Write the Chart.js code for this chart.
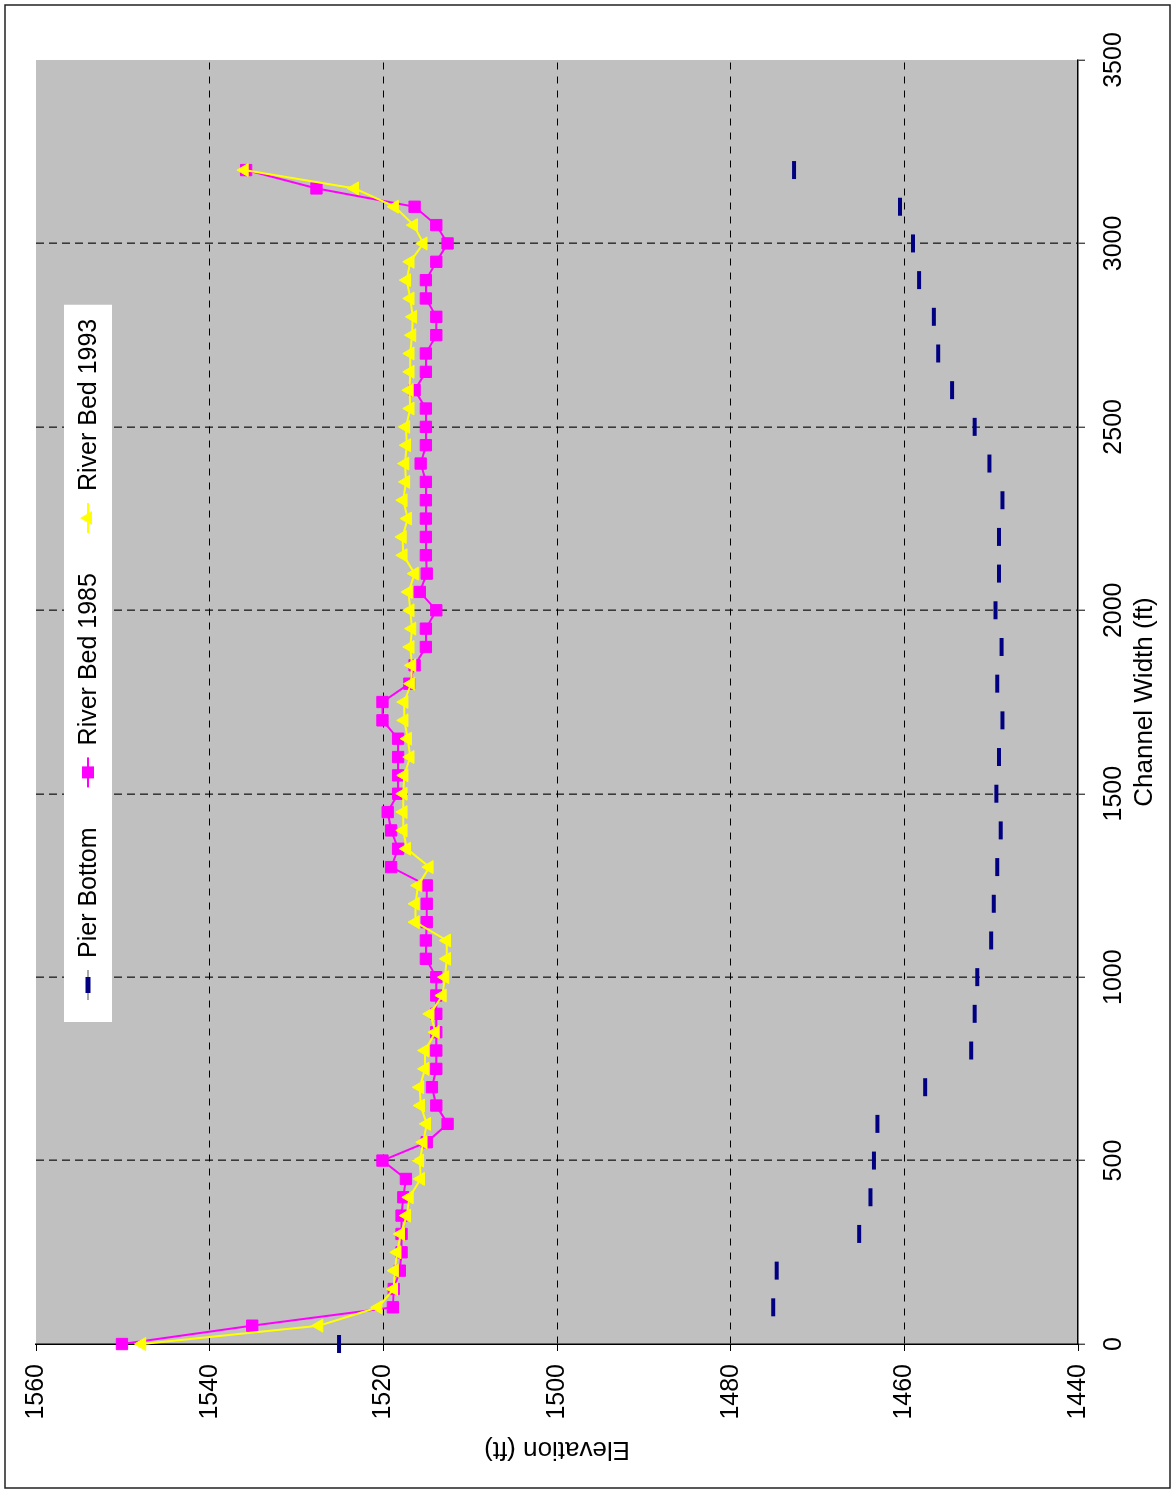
<!DOCTYPE html>
<html>
<head>
<meta charset="utf-8">
<script src="https://cdn.jsdelivr.net/npm/chart.js@4.4.1/dist/chart.umd.min.js"></script>
<style>
  html, body { margin: 0; padding: 0; background: #ffffff; width: 1175px; height: 1493px; overflow: hidden; }
  /* The chart is laid out landscape and turned a quarter turn counter-clockwise onto the portrait page */
  #wrap { position: absolute; left: 0; top: 0; width: 1493px; height: 1175px;
          transform-origin: 0 0; transform: translate(0px, 1493px) rotate(-90deg); }
  canvas { display: block; }
</style>
</head>
<body>
<div id="wrap"><canvas id="chart" width="1493" height="1175"></canvas></div>
<script>
// Survey stations across the channel (ft) for the two river bed surveys
const bedWidths = [
  0, 50, 100, 150, 200, 250, 300, 350, 400, 450,
  500, 550, 600, 650, 700, 750, 800, 850, 900, 950,
  1000, 1050, 1100, 1150, 1200, 1250, 1300, 1350, 1400, 1450,
  1500, 1550, 1600, 1650, 1700, 1750, 1800, 1850, 1900, 1950,
  2000, 2050, 2100, 2150, 2200, 2250, 2300, 2350, 2400, 2450,
  2500, 2550, 2600, 2650, 2700, 2750, 2800, 2850, 2900, 2950,
  3000, 3050, 3100, 3150, 3200
];

// River bed elevation (ft), 1985 survey
const bed1985 = [
  1550.1, 1535.1, 1518.9, 1518.8, 1518.1, 1517.9, 1517.9, 1517.9, 1517.7, 1517.4,
  1520.1, 1515.0, 1512.6, 1513.9, 1514.4, 1513.9, 1513.9, 1513.9, 1513.9, 1513.9,
  1513.9, 1515.1, 1515.1, 1515.0, 1515.0, 1515.0, 1519.1, 1518.3, 1519.1, 1519.5,
  1518.3, 1518.3, 1518.3, 1518.3, 1520.1, 1520.1, 1517.0, 1516.4, 1515.1, 1515.1,
  1513.9, 1515.8, 1515.0, 1515.1, 1515.1, 1515.1, 1515.1, 1515.1, 1515.7, 1515.1,
  1515.1, 1515.1, 1516.4, 1515.1, 1515.1, 1513.9, 1513.9, 1515.1, 1515.1, 1513.9,
  1512.6, 1513.9, 1516.4, 1527.7, 1535.8
];

// River bed elevation (ft), 1993 survey
const bed1993 = [
  1547.8, 1527.4, 1520.6, 1518.8, 1518.7, 1518.4, 1518.0, 1517.3, 1517.0, 1515.7,
  1515.8, 1515.4, 1515.0, 1515.7, 1515.8, 1515.2, 1515.2, 1514.0, 1514.6, 1513.2,
  1512.9, 1512.7, 1512.7, 1516.3, 1516.3, 1516.0, 1514.7, 1517.3, 1517.7, 1517.7,
  1517.7, 1517.6, 1516.9, 1517.2, 1517.6, 1517.6, 1516.8, 1516.7, 1516.9, 1516.7,
  1516.9, 1517.1, 1516.4, 1517.7, 1517.8, 1517.2, 1517.7, 1517.4, 1517.5, 1517.3,
  1517.4, 1516.9, 1517.0, 1516.9, 1516.9, 1516.7, 1516.6, 1516.9, 1517.3, 1516.9,
  1515.4, 1516.5, 1518.7, 1523.3, 1536.0
];

// Pier locations (ft) and pier bottom elevations (ft)
const pierWidths = [
  0, 100, 200, 300, 400, 500, 600, 700, 800, 900,
  1000, 1100, 1200, 1300, 1400, 1500, 1600, 1700, 1800, 1900,
  2000, 2100, 2200, 2300, 2400, 2500, 2600, 2700, 2800, 2900,
  3000, 3100, 3200
];
const pierBottom = [
  1525.1, 1475.1, 1474.7, 1465.2, 1463.9, 1463.5, 1463.1, 1457.6, 1452.3, 1451.9,
  1451.6, 1450.0, 1449.7, 1449.3, 1448.9, 1449.4, 1449.1, 1448.7, 1449.3, 1448.8,
  1449.5, 1449.1, 1449.1, 1448.7, 1450.2, 1451.9, 1454.5, 1456.1, 1456.6, 1458.3,
  1459.0, 1460.5, 1472.7
];

// Axis tick values
const widthTicks = [0, 500, 1000, 1500, 2000, 2500, 3000, 3500];
const elevTicks = [1440, 1460, 1480, 1500, 1520, 1540, 1560];

const seriesNames = ['Pier Bottom', 'River Bed 1985', 'River Bed 1993'];

const FONT = '"Liberation Sans", Arial, Helvetica, sans-serif';

function pairs(xs, ys) {
  return xs.map((x, i) => ({ x: x, y: ys[i] }));
}

// Page background, outer frame and grey plot area
const backdrop = {
  id: 'backdrop',
  beforeDraw(chart) {
    const { ctx, chartArea: a, width, height } = chart;
    ctx.save();
    ctx.fillStyle = '#ffffff';
    ctx.fillRect(0, 0, width, height);
    ctx.strokeStyle = '#222222';
    ctx.lineWidth = 1.5;
    ctx.strokeRect(5, 5, width - 10, height - 10);
    ctx.fillStyle = '#c0c0c0';
    ctx.fillRect(a.left, a.top, a.right - a.left, a.bottom - a.top);
    ctx.restore();
  }
};

// Legend box drawn inside the plot area, near its top edge
const insetLegend = {
  id: 'insetLegend',
  afterDraw(chart) {
    const ctx = chart.ctx;
    ctx.save();
    ctx.font = '25px ' + FONT;
    const top = 64, bottom = 112, left = 471;
    const cy = (top + bottom) / 2;
    const widths = seriesNames.map(n => ctx.measureText(n).width);
    let total = 22;
    widths.forEach((w, i) => { total += 42 + w + (i < widths.length - 1 ? 40 : 14); });
    ctx.fillStyle = '#ffffff';
    ctx.fillRect(left, top, total, bottom - top);

    let x = left + 22;
    seriesNames.forEach((name, i) => {
      const mx = x + 15;
      ctx.lineWidth = 2;
      if (i === 0) {
        ctx.strokeStyle = '#a8a8a8';
        ctx.beginPath(); ctx.moveTo(x, cy); ctx.lineTo(x + 30, cy); ctx.stroke();
        ctx.strokeStyle = '#000080';
        ctx.lineWidth = 5;
        ctx.beginPath(); ctx.moveTo(mx - 8, cy); ctx.lineTo(mx + 8, cy); ctx.stroke();
      } else if (i === 1) {
        ctx.strokeStyle = '#ff00ff';
        ctx.beginPath(); ctx.moveTo(x, cy); ctx.lineTo(x + 30, cy); ctx.stroke();
        ctx.fillStyle = '#ff00ff';
        ctx.fillRect(mx - 6, cy - 6, 12, 12);
      } else {
        ctx.strokeStyle = '#ffff00';
        ctx.beginPath(); ctx.moveTo(x, cy); ctx.lineTo(x + 30, cy); ctx.stroke();
        const r = 8;
        ctx.fillStyle = '#ffff00';
        ctx.beginPath();
        ctx.moveTo(mx, cy - r);
        ctx.lineTo(mx + r * 0.866, cy + r / 2);
        ctx.lineTo(mx - r * 0.866, cy + r / 2);
        ctx.closePath();
        ctx.fill();
      }
      ctx.fillStyle = '#000000';
      ctx.textBaseline = 'middle';
      ctx.textAlign = 'left';
      ctx.fillText(name, x + 42, cy + 1);
      x += 42 + widths[i] + 40;
    });
    ctx.restore();
  }
};

new Chart(document.getElementById('chart'), {
  type: 'scatter',
  data: {
    datasets: [
      {
        label: seriesNames[0],
        data: pairs(pierWidths, pierBottom),
        showLine: false,
        pointStyle: 'line',
        pointRadius: 9,
        pointBorderWidth: 4,
        borderColor: '#000080',
        backgroundColor: '#000080',
        clip: false,
        order: 3
      },
      {
        label: seriesNames[1],
        data: pairs(bedWidths, bed1985),
        showLine: true,
        borderColor: '#ff00ff',
        backgroundColor: '#ff00ff',
        borderWidth: 2,
        pointStyle: 'rect',
        pointRadius: 8,
        pointBorderWidth: 1,
        pointBorderColor: '#ff00ff',
        pointBackgroundColor: '#ff00ff',
        tension: 0,
        clip: false,
        order: 2
      },
      {
        label: seriesNames[2],
        data: pairs(bedWidths, bed1993),
        showLine: true,
        borderColor: '#ffff00',
        backgroundColor: '#ffff00',
        borderWidth: 2,
        pointStyle: 'triangle',
        pointRadius: 7.5,
        pointBorderWidth: 1,
        pointBorderColor: '#ffff00',
        pointBackgroundColor: '#ffff00',
        tension: 0,
        clip: false,
        order: 1
      }
    ]
  },
  options: {
    responsive: false,
    animation: false,
    devicePixelRatio: 1,
    layout: { padding: { left: 0, right: 60, top: 36, bottom: 0 } },
    plugins: {
      legend: { display: false },
      tooltip: { enabled: false }
    },
    scales: {
      x: {
        type: 'linear',
        min: 0,
        max: 3500,
        afterBuildTicks: s => { s.ticks = widthTicks.map(v => ({ value: v })); },
        afterFit: s => { s.height = 97; },
        ticks: {
          color: '#000000',
          font: { family: FONT, size: 25 },
          padding: 14,
          maxRotation: 0,
          autoSkip: false,
          callback: v => String(v)
        },
        grid: {
          color: c => (c.tick && (c.tick.value === 3500 || c.tick.value === 0)) ? 'rgba(0,0,0,0)' : '#3a3a3a',
          lineWidth: 1.6,
          drawTicks: true,
          tickLength: 7,
          tickColor: '#000000',
          tickWidth: 1
        },
        border: { display: true, color: '#000000', width: 1.5, dash: [8, 5] },
        title: {
          display: true,
          text: 'Channel Width (ft)',
          color: '#000000',
          font: { family: FONT, size: 26 },
          padding: { top: 0, bottom: 15 }
        }
      },
      y: {
        type: 'linear',
        min: 1440,
        max: 1560,
        afterBuildTicks: s => { s.ticks = elevTicks.map(v => ({ value: v })); },
        afterFit: s => { s.width = 149; },
        ticks: {
          color: '#000000',
          font: { family: FONT, size: 25 },
          padding: 13,
          autoSkip: false,
          callback: v => String(v)
        },
        grid: {
          color: c => (c.tick && (c.tick.value === 1560 || c.tick.value === 1440)) ? 'rgba(0,0,0,0)' : '#000000',
          lineWidth: 1,
          drawTicks: true,
          tickLength: 7,
          tickColor: '#000000',
          tickWidth: 1
        },
        border: { display: true, color: '#000000', width: 1.5, dash: [7, 7] },
        title: {
          display: true,
          text: 'Elevation (ft)',
          color: '#000000',
          font: { family: FONT, size: 26 },
          padding: { top: 28, bottom: 0 }
        }
      }
    }
  },
  plugins: [backdrop, insetLegend]
});
</script>
</body>
</html>
